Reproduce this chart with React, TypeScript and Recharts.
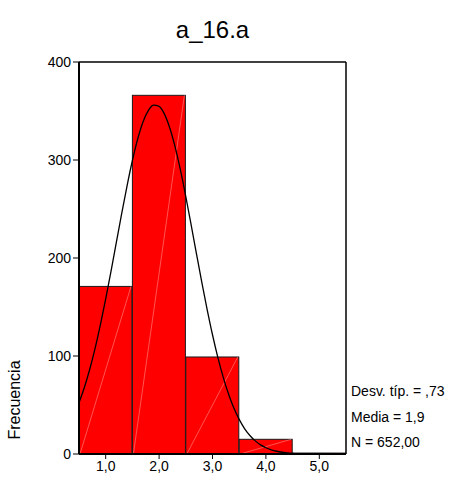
import { Bar, ComposedChart, Line, ReferenceLine, XAxis, YAxis } from "recharts";

const BINS = [1, 2, 3, 4, 5];
const COUNTS = [171, 366, 99, 15, 1];
const Y_TICKS = [0, 100, 200, 300, 400];
const X_TICKS = [1, 2, 3, 4, 5];
const X_DOMAIN = [0.5, 5.5];
const Y_DOMAIN = [0, 400];

// fitted normal curve, sampled every 0.1
const CURVE_X = [
  0.5, 0.6, 0.7, 0.8, 0.9, 1.0, 1.1, 1.2, 1.3, 1.4, 1.5, 1.6, 1.7, 1.8, 1.9,
  2.0, 2.1, 2.2, 2.3, 2.4, 2.5, 2.6, 2.7, 2.8, 2.9, 3.0, 3.1, 3.2, 3.3, 3.4,
  3.5, 3.6, 3.7, 3.8, 3.9, 4.0, 4.1, 4.2, 4.3, 4.4, 4.5, 4.6,
];
const CURVE_Y = [
  52.3, 67.8, 86.2, 107.5, 131.7, 158.3, 186.7, 216.1, 245.5, 273.7, 299.5,
  321.7, 339.1, 350.7, 356.0, 354.7, 346.8, 332.7, 313.4, 289.6, 262.7, 233.8,
  204.3, 175.2, 147.4, 121.7, 98.6, 78.5, 61.2, 46.9, 35.3, 26.0, 18.9, 13.4,
  9.3, 6.4, 4.3, 2.8, 1.8, 1.2, 0.7, 0.4,
];

const TITLE = "a_16.a";
const Y_LABEL = "Frecuencia";
const STATS = ["Desv. típ. = ,73", "Media = 1,9", "N = 652,00"];

const FONT = "Arial, 'Liberation Sans', sans-serif";
const RED = "#ff0000";

const bins = BINS.map((b, i) => ({ bin: b, count: COUNTS[i] }));
const curve = CURVE_X.map((x, i) => ({ x, y: CURVE_Y[i] }));

function fmt(v: number): string {
  return v.toFixed(1).replace(".", ",");
}

function HistBar(props: any) {
  const { x, y, width, height } = props;
  if (width == null || height == null) return null;
  return (
    <g>
      <rect x={x} y={y} width={width} height={height} fill={RED} stroke="#1a1a1a" strokeWidth={1} />
      <line
        x1={x + 1}
        y1={y + height}
        x2={x + width - 1}
        y2={y}
        stroke="rgba(255,200,200,0.7)"
        strokeWidth={0.6}
      />
    </g>
  );
}

const tickStyle = { fontSize: 14, fill: "#000", fontFamily: FONT };

export default function App() {
  return (
    <div style={{ position: "relative", width: 460, height: 479, background: "#fff", fontFamily: FONT }}>
      <style>{`body{margin:0}`}</style>
      <div
        style={{
          position: "absolute",
          left: 0,
          width: 425,
          top: 16,
          textAlign: "center",
          fontSize: 24,
          lineHeight: "28px",
          color: "#000",
        }}
      >
        {TITLE}
      </div>
      <div
        style={{
          position: "absolute",
          left: 15,
          top: 400,
          transform: "translate(-50%, -50%) rotate(-90deg)",
          fontSize: 16,
          whiteSpace: "nowrap",
          color: "#000",
        }}
      >
        {Y_LABEL}
      </div>
      {STATS.map((s, i) => (
        <div
          key={s}
          style={{
            position: "absolute",
            left: 351,
            top: 382 + i * 25.5,
            fontSize: 14,
            lineHeight: "18px",
            whiteSpace: "nowrap",
            color: "#000",
          }}
        >
          {s}
        </div>
      ))}
      <div style={{ position: "absolute", left: 0, top: 0 }}>
        <ComposedChart
          width={460}
          height={479}
          data={bins}
          barCategoryGap={0}
          margin={{ top: 62, right: 114, bottom: 0, left: 0 }}
        >
          <XAxis
            xAxisId="num"
            dataKey="x"
            type="number"
            domain={X_DOMAIN}
            ticks={X_TICKS}
            tickFormatter={fmt}
            height={25}
            tickSize={5}
            tick={tickStyle}
            axisLine={{ stroke: "#000", strokeWidth: 2 }}
            tickLine={{ stroke: "#000" }}
            allowDataOverflow
          />
          <XAxis xAxisId="bins" dataKey="bin" type="category" orientation="top" height={0} hide />
          <YAxis
            yAxisId="left"
            domain={Y_DOMAIN}
            ticks={Y_TICKS}
            width={79}
            tickSize={6}
            tick={tickStyle}
            axisLine={{ stroke: "#000", strokeWidth: 2 }}
            tickLine={{ stroke: "#000" }}
            allowDataOverflow
          />
          <Bar
            xAxisId="bins"
            yAxisId="left"
            dataKey="count"
            shape={HistBar}
            isAnimationActive={false}
          />
          <Line
            xAxisId="num"
            yAxisId="left"
            data={curve}
            dataKey="y"
            type="monotone"
            stroke="#000"
            strokeWidth={1.3}
            dot={false}
            isAnimationActive={false}
          />
          {/* frame: top and right edges of the plot */}
          <ReferenceLine xAxisId="num" yAxisId="left" y={Y_DOMAIN[1]} stroke="#000" strokeWidth={1.5} />
          <ReferenceLine xAxisId="num" yAxisId="left" x={X_DOMAIN[1]} stroke="#000" strokeWidth={1.5} />
        </ComposedChart>
      </div>
    </div>
  );
}
